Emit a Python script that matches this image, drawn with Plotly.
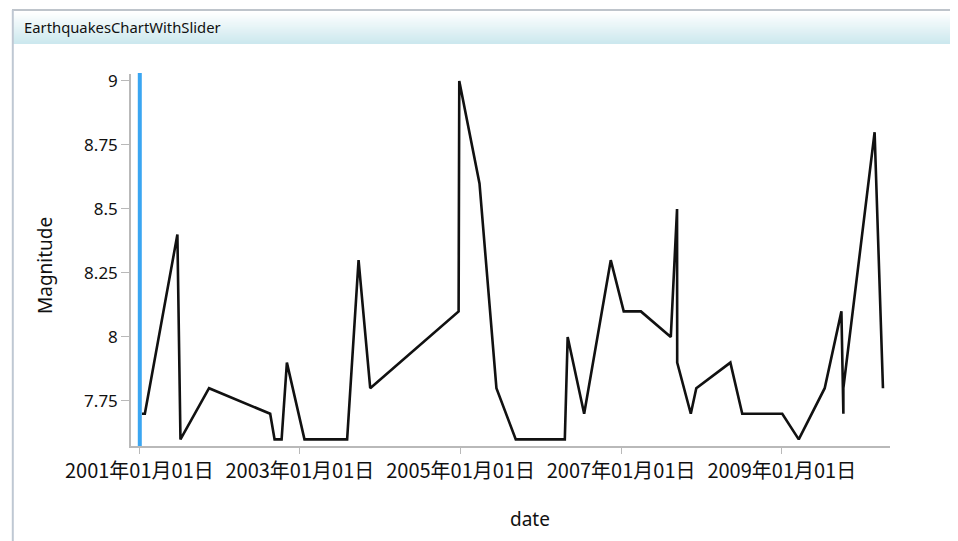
import plotly.graph_objects as go

# ---------------- data ----------------
dates = [
    "2001-01-13", "2001-01-26", "2001-06-23", "2001-07-07", "2001-11-14",
    "2002-08-19", "2002-09-08", "2002-10-10", "2002-11-03",
    "2003-01-22", "2003-08-04", "2003-09-25", "2003-11-17",
    "2004-12-23", "2004-12-26",
    "2005-03-28", "2005-06-13", "2005-09-09", "2005-10-08",
    "2006-01-27", "2006-04-20", "2006-05-03", "2006-07-17", "2006-11-15",
    "2007-01-13", "2007-04-01", "2007-08-15", "2007-09-12 11:10", "2007-09-13 03:35",
    "2007-11-14", "2007-12-09",
    "2008-05-12", "2008-07-05",
    "2009-01-03", "2009-03-19", "2009-07-15", "2009-09-29", "2009-10-07 22:03", "2009-10-07 22:18",
    "2010-02-27", "2010-04-06",
]
magnitudes = [
    7.7, 7.7, 8.4, 7.6, 7.8,
    7.7, 7.6, 7.6, 7.9,
    7.6, 7.6, 8.3, 7.8,
    8.1, 9.0,
    8.6, 7.8, 7.6, 7.6,
    7.6, 7.6, 8.0, 7.7, 8.3,
    8.1, 8.1, 8.0, 8.5, 7.9,
    7.7, 7.8,
    7.9, 7.7,
    7.7, 7.6, 7.8, 8.1, 7.7, 7.8,
    8.8, 7.8,
]

x_tick_vals = ["2001-01-01", "2003-01-01", "2005-01-01", "2007-01-01", "2009-01-01"]
x_tick_text = ["2001年01月01日", "2003年01月01日", "2005年01月01日", "2007年01月01日", "2009年01月01日"]
y_tick_vals = [7.75, 8.0, 8.25, 8.5, 8.75, 9.0]
y_tick_text = ["7.75", "8", "8.25", "8.5", "8.75", "9"]

x_range = ["2000-11-24", "2010-05-08"]
y_range = [7.5742, 9.0273]

slider_position = "2001-01-03"

chart_title = "EarthquakesChartWithSlider"
x_title = "date"
y_title = "Magnitude"

# ---------------- figure ----------------
OFF = 8  # page body margin
W, H = 958 - OFF, 541 - OFF
PLOT_L, PLOT_R, PLOT_T, PLOT_B = 131, 890, 74, 446   # page pixel box of the plot area
ML, MT = PLOT_L - OFF, PLOT_T - OFF
MR, MB = 958 - PLOT_R, 541 - PLOT_B
PW, PH = PLOT_R - PLOT_L, PLOT_B - PLOT_T


def px_x(p):
    return (p - PLOT_L) / PW


def px_y(p):
    return (PLOT_B - p) / PH


fig = go.Figure()
fig.add_trace(go.Scatter(
    x=dates, y=magnitudes, mode="lines",
    line=dict(color="#111111", width=2.6),
    hoverinfo="x+y", showlegend=False,
))

shapes = []
# header gradient band (overlapping rects, drawn top to bottom)
top_c = (255, 255, 255)
bot_c = (204, 232, 238)
y0, y1 = 11.0, 44.0
n = 24
for i in range(n):
    t = i / (n - 1)
    c = tuple(round(top_c[k] + (bot_c[k] - top_c[k]) * t) for k in range(3))
    ya = y0 + (y1 - y0) * i / n
    shapes.append(dict(type="rect", xref="paper", yref="paper",
                       x0=px_x(12), x1=px_x(970), y0=px_y(y1), y1=px_y(ya),
                       line=dict(width=0), fillcolor="rgb(%d,%d,%d)" % c, layer="below"))
# header top border
shapes.append(dict(type="line", xref="paper", yref="paper",
                   x0=px_x(12), x1=px_x(970), y0=px_y(10), y1=px_y(10),
                   line=dict(color="#a9b1ba", width=1.5)))
# left frame border
shapes.append(dict(type="line", xref="paper", yref="paper",
                   x0=px_x(12.8), x1=px_x(12.8), y0=px_y(10), y1=px_y(545),
                   line=dict(color="#bfc8d3", width=2)))
# slider cursor
shapes.append(dict(type="line", xref="x", yref="paper",
                   x0=slider_position, x1=slider_position, y0=0, y1=1.003,
                   line=dict(color="#3aa6f2", width=4)))

annotations = [
    dict(text=chart_title, xref="paper", yref="paper", x=px_x(22), y=px_y(27),
         xanchor="left", yanchor="middle", showarrow=False,
         font=dict(family="Noto Sans", size=14.8, color="#111111")),
    dict(text=y_title, xref="paper", yref="paper", x=px_x(45), y=px_y(266),
         xanchor="center", yanchor="middle", textangle=-90, showarrow=False,
         font=dict(family="Noto Sans", size=19, color="#111111")),
    dict(text=x_title, xref="paper", yref="paper", x=px_x(529.5), y=px_y(519),
         xanchor="center", yanchor="middle", showarrow=False,
         font=dict(family="Noto Sans", size=19, color="#111111")),
]

axis_color = "#b9b9b9"
fig.update_layout(
    width=W, height=H,
    margin=dict(l=ML, r=MR, t=MT, b=MB, pad=0),
    paper_bgcolor="white", plot_bgcolor="white",
    shapes=shapes, annotations=annotations,
    showlegend=False,
    xaxis=dict(
        type="date", range=x_range, tickmode="array",
        tickvals=x_tick_vals, ticktext=x_tick_text,
        showgrid=False, zeroline=False, showline=True,
        linecolor=axis_color, linewidth=1.5,
        ticks="outside", ticklen=6, tickwidth=1.2, tickcolor=axis_color,
        tickfont=dict(family="Noto Sans CJK JP", size=20, color="#111111"),
    ),
    yaxis=dict(
        range=y_range, tickmode="array",
        tickvals=y_tick_vals, ticktext=y_tick_text,
        showgrid=False, zeroline=False, showline=True,
        linecolor=axis_color, linewidth=1.5,
        ticks="outside", ticklen=8, tickwidth=1.2, tickcolor=axis_color,
        tickfont=dict(family="Noto Sans", size=17, color="#111111"),
    ),
)

fig.write_html("out.html")
